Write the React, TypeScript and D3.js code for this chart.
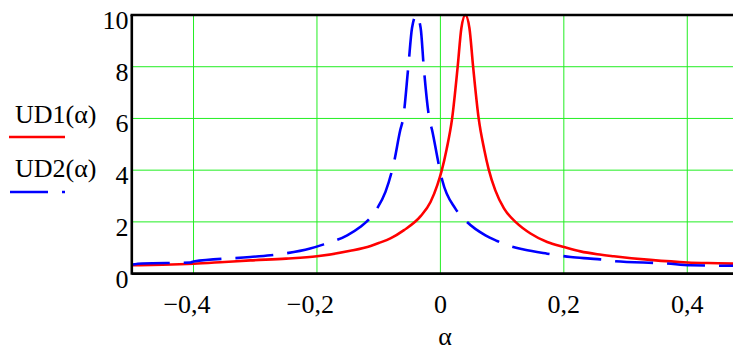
import React from "react";
import * as d3 from "d3";

const xTicks = [-0.4, -0.2, 0, 0.2, 0.4];
const yTicks = [0, 2, 4, 6, 8, 10];
const yGrid = [2, 4, 6, 8];

const ud1Alpha = [-0.5, -0.45, -0.4, -0.35, -0.308, -0.25, -0.2, -0.146, -0.113, -0.1, -0.081, -0.059, -0.032, -0.016, -0.005, 0.002, 0.01, 0.019, 0.028, 0.034, 0.0405, 0.047, 0.053, 0.062, 0.071, 0.078, 0.089, 0.103, 0.123, 0.146, 0.173, 0.2, 0.227, 0.254, 0.281, 0.34, 0.4, 0.45, 0.5];
const ud1Value = [0.32, 0.34, 0.38, 0.45, 0.51, 0.58, 0.67, 0.88, 1.07, 1.18, 1.36, 1.68, 2.22, 2.77, 3.42, 3.97, 4.8, 6, 8, 9.5, 10, 9.5, 8, 6, 4.8, 4.05, 3.22, 2.52, 1.97, 1.55, 1.22, 1.03, 0.86, 0.75, 0.67, 0.53, 0.43, 0.4, 0.37];

const ud2Alpha = [-0.5, -0.483, -0.405, -0.4, -0.308, -0.254, -0.211, -0.189, -0.151, -0.13, -0.113, -0.103, -0.089, -0.0756, -0.065, -0.0604, -0.052, -0.046, -0.039, -0.032, -0.027, -0.018, -0.0135, -0.003, 0.003, 0.024, 0.043, 0.073, 0.092, 0.108, 0.135, 0.173, 0.211, 0.243, 0.259, 0.281, 0.367, 0.405, 0.5];
const ud2Value = [0.35, 0.39, 0.43, 0.47, 0.64, 0.77, 0.97, 1.13, 1.48, 1.8, 2.17, 2.5, 3.16, 4.26, 5.55, 6, 8, 9.5, 10, 9.5, 8, 6, 5.55, 4.26, 3.61, 2.52, 2.0, 1.48, 1.26, 1.1, 0.93, 0.77, 0.64, 0.58, 0.55, 0.48, 0.39, 0.32, 0.3];

const W = 741;
const H = 351;

function fmt(v: number) {
  return d3.format("")(v).replace(".", ",").replace("-", "\u2212");
}

export default function App() {
  const x = d3.scaleLinear().domain([-0.5, 0.5]).range([131.8, 749]);
  const y = d3.scaleLinear().domain([0, 10]).range([273.6, 15]);
  const left = x(-0.5);
  const right = W;
  const top = y(10);
  const bottom = y(0);

  const line = d3
    .line<[number, number]>()
    .x((d) => x(d[0]))
    .y((d) => y(d[1]))
    .curve(d3.curveMonotoneX);

  const d1 = line(ud1Alpha.map((a, i) => [a, ud1Value[i]] as [number, number])) || "";
  const d2 = line(ud2Alpha.map((a, i) => [a, ud2Value[i]] as [number, number])) || "";

  const labels: { x: number; y: number; a: string; t: string }[] = [
    ...yTicks.map((t) => ({ x: 128.5, y: y(t) + 14, a: "end", t: fmt(t) })),
    ...xTicks.map((t) => ({ x: x(t) + (t < 0 ? -6.5 : 0), y: 312.5, a: "middle", t: fmt(t) })),
    { x: 445, y: 345, a: "middle", t: "α" },
    { x: 15, y: 123, a: "start", t: "UD1(α)" },
    { x: 15, y: 177, a: "start", t: "UD2(α)" },
  ];

  return (
    <svg width={W} height={H} style={{ display: "block", margin: "-8px 0 0 -8px" }}>
      <defs>
        <clipPath id="plot">
          <rect x={left} y={top - 2} width={right - left} height={bottom - top + 2} />
        </clipPath>
      </defs>
      {xTicks.map((t) => (
        <line key={"gx" + t} x1={x(t)} x2={x(t)} y1={top} y2={bottom} stroke="#22ee22" strokeWidth={1} />
      ))}
      {yGrid.map((t) => (
        <line key={"gy" + t} x1={left} x2={right} y1={y(t)} y2={y(t)} stroke="#22ee22" strokeWidth={1} />
      ))}
      <g clipPath="url(#plot)">
        <path d={d1} fill="none" stroke="#ff0000" strokeWidth={2.6} />
        <path d={d2} fill="none" stroke="#0000ff" strokeWidth={2.6} strokeDasharray="38,14" />
      </g>
      <line x1={left - 1.3} x2={right} y1={top} y2={top} stroke="#000" strokeWidth={2.4} />
      <line x1={left} x2={left} y1={top} y2={bottom + 1.2} stroke="#000" strokeWidth={2.6} />
      <line x1={left} x2={right} y1={bottom} y2={bottom} stroke="#000" strokeWidth={2.6} />
      {labels.map((l, i) => (
        <text key={i} x={l.x} y={l.y} textAnchor={l.a} style={{ fontFamily: `"Liberation Serif"`, fontSize: "26px" }}>
          {l.t}
        </text>
      ))}
      <line x1={9} x2={65} y1={137} y2={137} stroke="#ff0000" strokeWidth={2.6} />
      <line x1={10} x2={65} y1={192} y2={192} stroke="#0000ff" strokeWidth={2.6} strokeDasharray="38,14" />
    </svg>
  );
}
